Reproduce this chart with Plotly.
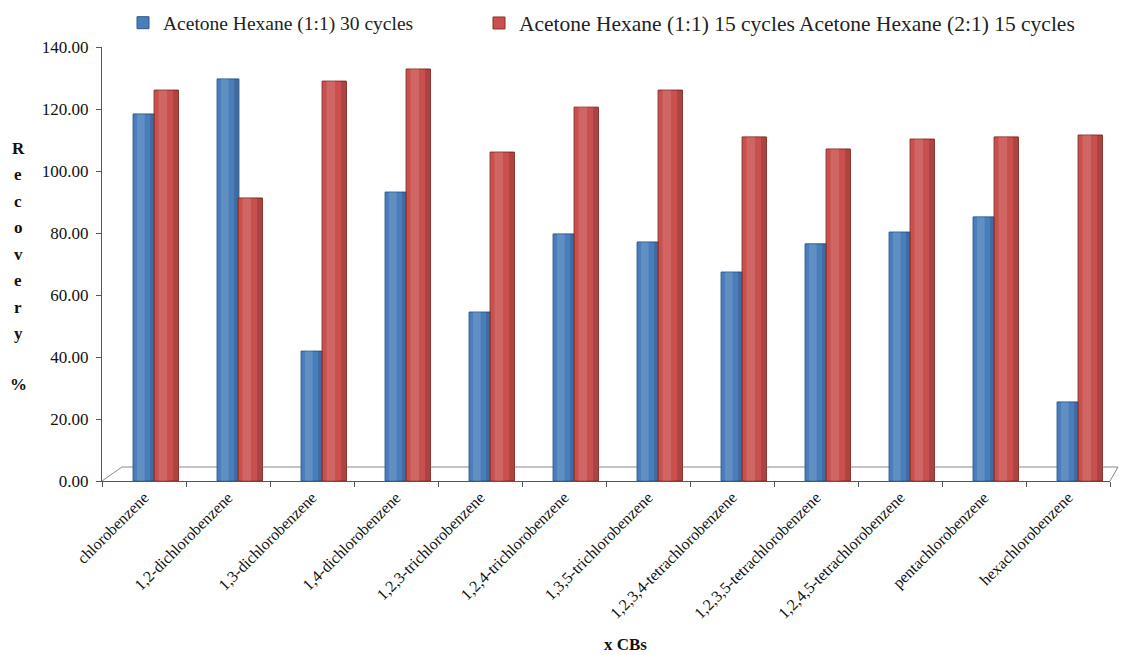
import plotly.graph_objects as go

compounds = [
    "chlorobenzene", "1,2-dichlorobenzene", "1,3-dichlorobenzene",
    "1,4-dichlorobenzene", "1,2,3-trichlorobenzene", "1,2,4-trichlorobenzene",
    "1,3,5-trichlorobenzene", "1,2,3,4-tetrachlorobenzene",
    "1,2,3,5-tetrachlorobenzene", "1,2,4,5-tetrachlorobenzene",
    "pentachlorobenzene", "hexachlorobenzene",
]
recovery_30_cycles = [118.4, 129.7, 41.9, 93.2, 54.5, 79.7, 77.1, 67.4, 76.5, 80.3, 85.2, 25.5]
recovery_15_15_cycles = [126.1, 91.3, 129.0, 132.9, 106.1, 120.6, 126.1, 111.0, 107.1, 110.3, 111.0, 111.6]

name_30 = "Acetone Hexane (1:1) 30 cycles"
name_15_15 = "Acetone Hexane (1:1) 15 cycles Acetone Hexane (2:1) 15 cycles"

SERIF = "Liberation Serif"
W, H = 1121, 655
L, R, T, B = 102, 11, 47, 174
plot_w = W - L - R
plot_h = H - T - B


def px_to_paper_y(py):
    return (H - B - py) / plot_h


def px_to_paper_x(px):
    return (px - L) / plot_w


fig = go.Figure()

# columns: base colour, then a light and a dark strip to give a rounded look
series = [
    (recovery_30_cycles, name_30, "#4A7EBB", "#2E5A8E", -0.13, 0.26, "legend"),
    (recovery_15_15_cycles, name_15_15, "#C9504D", "#8C302E", 0.12, 0.29, "legend2"),
]
for values, name, color, edge, off, wid, leg in series:
    fig.add_trace(go.Bar(
        x=compounds, y=values, name=name, legend=leg,
        marker=dict(color=color, line=dict(color=edge, width=1)),
        width=wid, offset=off,
    ))
for values, name, color, edge, off, wid, leg in series:
    fig.add_trace(go.Bar(
        x=compounds, y=values, showlegend=False, hoverinfo="skip",
        marker=dict(color="rgba(255,255,255,0.13)", line=dict(width=0)),
        width=wid * 0.35, offset=off + wid * 0.18,
    ))
    fig.add_trace(go.Bar(
        x=compounds, y=values, showlegend=False, hoverinfo="skip",
        marker=dict(color="rgba(0,0,0,0.14)", line=dict(width=0)),
        width=wid * 0.2, offset=off + wid * 0.78,
    ))

# 3-D floor outline behind the columns
floor_color = "#8A8A8A"
fig.add_shape(type="line", xref="paper", yref="paper",
              x0=0, y0=0, x1=px_to_paper_x(122), y1=px_to_paper_y(467),
              line=dict(color=floor_color, width=1), layer="below")
fig.add_shape(type="line", xref="paper", yref="paper",
              x0=px_to_paper_x(122), y0=px_to_paper_y(467),
              x1=px_to_paper_x(1118), y1=px_to_paper_y(467),
              line=dict(color=floor_color, width=1), layer="below")
fig.add_shape(type="line", xref="paper", yref="paper",
              x0=1, y0=0, x1=px_to_paper_x(1118), y1=px_to_paper_y(467),
              line=dict(color=floor_color, width=1), layer="below")

# vertical, letter-stacked axis title
letters = list("Recovery") + ["%"]
letter_px = [148 + 26.5 * i for i in range(8)] + [384]
for ch, py in zip(letters, letter_px):
    fig.add_annotation(text=f"<b>{ch}</b>", xref="paper", yref="paper",
                       x=px_to_paper_x(18), y=px_to_paper_y(py),
                       showarrow=False, xanchor="center", yanchor="middle",
                       font=dict(family=SERIF, size=17, color="#111"))

fig.add_annotation(text="<b>x CBs</b>", xref="paper", yref="paper",
                   x=px_to_paper_x(625), y=px_to_paper_y(644),
                   showarrow=False, xanchor="center", yanchor="middle",
                   font=dict(family=SERIF, size=17, color="#111"))

legend_style = dict(orientation="h", xanchor="left", yanchor="middle",
                    y=px_to_paper_y(23), bgcolor="rgba(0,0,0,0)",
                    itemwidth=30)

fig.update_layout(
    width=W, height=H,
    margin=dict(l=L, r=R, t=T, b=B, autoexpand=False),
    paper_bgcolor="white", plot_bgcolor="white",
    barmode="overlay",
    font=dict(family=SERIF, color="#111"),
    legend=dict(x=px_to_paper_x(123), font=dict(family=SERIF, size=19.5, color="#222"),
                **legend_style),
    legend2=dict(x=px_to_paper_x(479), font=dict(family=SERIF, size=21.5, color="#222"),
                 **legend_style),
    xaxis=dict(
        type="category", range=[-0.5, 11.5],
        showline=True, linecolor="#555", linewidth=1,
        ticks="outside", tickson="boundaries", ticklen=5, tickcolor="#555",
        tickangle=-45, tickfont=dict(family=SERIF, size=16, color="#111"),
        showgrid=False,
    ),
    yaxis=dict(
        range=[0, 140], dtick=20, tickformat=".2f",
        showline=True, linecolor="#555", linewidth=1,
        ticks="outside", ticklen=5, tickcolor="#555",
        ticklabelstandoff=4,
        tickfont=dict(family=SERIF, size=17, color="#111"),
        showgrid=False, zeroline=False,
    ),
)

fig.write_html("out.html")
